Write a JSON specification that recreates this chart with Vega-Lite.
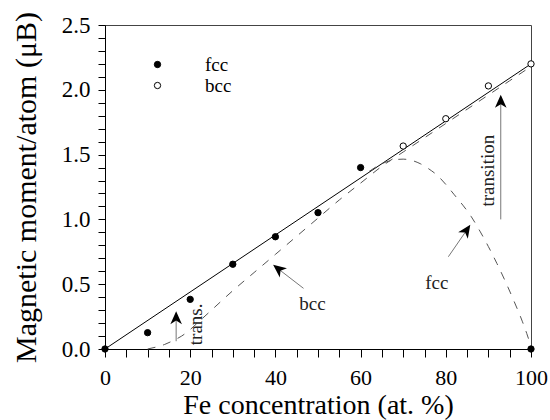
{
  "$schema": "https://vega.github.io/schema/vega-lite/v6.json",
  "autosize": {"type": "none"},
  "width": 426,
  "height": 324,
  "padding": {"left": 105, "top": 25, "right": 19, "bottom": 71},
  "background": "white",
  "config": {
    "view": {"stroke": "#444", "strokeWidth": 1},
    "font": "Liberation Serif"
  },
  "datasets": {
    "points": [
      {"x": 0, "y": 0, "phase": "fcc"},
      {"x": 10, "y": 0.126, "phase": "fcc"},
      {"x": 20, "y": 0.383, "phase": "fcc"},
      {"x": 30, "y": 0.654, "phase": "fcc"},
      {"x": 40, "y": 0.866, "phase": "fcc"},
      {"x": 50, "y": 1.052, "phase": "fcc"},
      {"x": 60, "y": 1.40, "phase": "fcc"},
      {"x": 100, "y": 0, "phase": "fcc"},
      {"x": 70, "y": 1.566, "phase": "bcc"},
      {"x": 80, "y": 1.777, "phase": "bcc"},
      {"x": 90, "y": 2.03, "phase": "bcc"},
      {"x": 100, "y": 2.2, "phase": "bcc"}
    ],
    "fit": [
      {"x": 0, "y": 0},
      {"x": 100, "y": 2.2}
    ],
    "curves": [
      {"x": 10, "y": 0.0, "curve": "bcc"},
      {"x": 12, "y": 0.015, "curve": "bcc"},
      {"x": 14, "y": 0.035, "curve": "bcc"},
      {"x": 16, "y": 0.065, "curve": "bcc"},
      {"x": 18, "y": 0.1, "curve": "bcc"},
      {"x": 20, "y": 0.15, "curve": "bcc"},
      {"x": 22, "y": 0.21, "curve": "bcc"},
      {"x": 25, "y": 0.3, "curve": "bcc"},
      {"x": 30, "y": 0.45, "curve": "bcc"},
      {"x": 35, "y": 0.59, "curve": "bcc"},
      {"x": 40, "y": 0.73, "curve": "bcc"},
      {"x": 45, "y": 0.87, "curve": "bcc"},
      {"x": 50, "y": 1.01, "curve": "bcc"},
      {"x": 55, "y": 1.15, "curve": "bcc"},
      {"x": 60, "y": 1.28, "curve": "bcc"},
      {"x": 65, "y": 1.41, "curve": "bcc"},
      {"x": 70, "y": 1.52, "curve": "bcc"},
      {"x": 75, "y": 1.63, "curve": "bcc"},
      {"x": 80, "y": 1.74, "curve": "bcc"},
      {"x": 85, "y": 1.85, "curve": "bcc"},
      {"x": 90, "y": 1.96, "curve": "bcc"},
      {"x": 95, "y": 2.07, "curve": "bcc"},
      {"x": 100, "y": 2.18, "curve": "bcc"},
      {"x": 62, "y": 1.37, "curve": "fcc"},
      {"x": 65, "y": 1.43, "curve": "fcc"},
      {"x": 68, "y": 1.46, "curve": "fcc"},
      {"x": 70, "y": 1.465, "curve": "fcc"},
      {"x": 72, "y": 1.455, "curve": "fcc"},
      {"x": 74, "y": 1.43, "curve": "fcc"},
      {"x": 76, "y": 1.39, "curve": "fcc"},
      {"x": 78, "y": 1.34, "curve": "fcc"},
      {"x": 80, "y": 1.27, "curve": "fcc"},
      {"x": 82, "y": 1.19, "curve": "fcc"},
      {"x": 84, "y": 1.11, "curve": "fcc"},
      {"x": 86, "y": 1.02, "curve": "fcc"},
      {"x": 88, "y": 0.91, "curve": "fcc"},
      {"x": 90, "y": 0.79, "curve": "fcc"},
      {"x": 92, "y": 0.66, "curve": "fcc"},
      {"x": 94, "y": 0.52, "curve": "fcc"},
      {"x": 96, "y": 0.37, "curve": "fcc"},
      {"x": 98, "y": 0.21, "curve": "fcc"},
      {"x": 99, "y": 0.12, "curve": "fcc"},
      {"x": 100, "y": 0.02, "curve": "fcc"}
    ],
    "shafts": [
      {"x": 16.7, "y": 0.06, "x2": 16.7, "y2": 0.25},
      {"x": 46.6, "y": 0.468, "x2": 40.8, "y2": 0.615},
      {"x": 80.6, "y": 0.712, "x2": 84.8, "y2": 0.912},
      {"x": 92.9, "y": 1.0, "x2": 92.9, "y2": 1.9}
    ],
    "heads": [
      {"x": 16.7, "y": 0.236, "angle": 0},
      {"x": 40.8, "y": 0.615, "angle": -52},
      {"x": 84.8, "y": 0.912, "angle": 34},
      {"x": 92.9, "y": 1.906, "angle": 0}
    ],
    "notes": [
      {"x": 21.3, "y": 0.19, "text": "trans.", "angle": 270},
      {"x": 48.7, "y": 0.35, "text": "bcc", "angle": 0},
      {"x": 77.9, "y": 0.507, "text": "fcc", "angle": 0},
      {"x": 90.0, "y": 1.376, "text": "transition", "angle": 270}
    ]
  },
  "encoding": {
    "x": {
      "field": "x", "type": "quantitative",
      "scale": {"domain": [0, 100], "nice": false},
      "axis": {
        "title": "Fe concentration (at. %)",
        "values": [0,5,10,15,20,25,30,35,40,45,50,55,60,65,70,75,80,85,90,95,100],
        "labelExpr": "datum.value % 20 === 0 ? datum.label : ''",
        "labelOverlap": false,
        "labelFlush": false,
        "labelBound": false,
        "grid": false,
        "tickSize": 8,
        "tickColor": "black",
        "domainColor": "black",
        "labelFont": "Liberation Serif",
        "labelFontSize": 22,
        "labelColor": "black",
        "labelPadding": 10,
        "titleFont": "Liberation Serif",
        "titleFontSize": 28,
        "titleFontWeight": "normal",
        "titleColor": "black",
        "titlePadding": 3,
        "encode": {"ticks": {"update": {"y2": {"signal": "datum.value % 20 === 0 ? 8 : 4"}}}}
      }
    },
    "y": {
      "field": "y", "type": "quantitative",
      "scale": {"domain": [0, 2.5], "nice": false},
      "axis": {
        "title": "Magnetic moment/atom (μB)",
        "values": [0,0.1,0.2,0.3,0.4,0.5,0.6,0.7,0.8,0.9,1.0,1.1,1.2,1.3,1.4,1.5,1.6,1.7,1.8,1.9,2.0,2.1,2.2,2.3,2.4,2.5],
        "labelExpr": "round(datum.value * 10) % 5 === 0 ? format(datum.value, '.1f') : ''",
        "labelOverlap": false,
        "labelFlush": false,
        "labelBound": false,
        "grid": false,
        "tickSize": 7,
        "tickColor": "black",
        "domainColor": "black",
        "labelFont": "Liberation Serif",
        "labelFontSize": 23,
        "labelColor": "black",
        "labelPadding": 8,
        "titleFont": "Liberation Serif",
        "titleFontSize": 30,
        "titleFontWeight": "normal",
        "titleColor": "black",
        "titlePadding": 20,
        "encode": {"ticks": {"update": {"x2": {"signal": "round(datum.value * 10) % 5 === 0 ? -7 : -4"}}}}
      }
    }
  },
  "layer": [
    {
      "data": {"name": "fit"},
      "mark": {"type": "line", "color": "black", "strokeWidth": 1, "clip": false}
    },
    {
      "data": {"name": "curves"},
      "mark": {"type": "line", "color": "#555", "strokeWidth": 1, "strokeDash": [8, 8], "interpolate": "monotone", "clip": false},
      "encoding": {"detail": {"field": "curve"}}
    },
    {
      "data": {"name": "shafts"},
      "mark": {"type": "rule", "color": "#777", "strokeWidth": 1},
      "encoding": {
        "x2": {"field": "x2"},
        "y2": {"field": "y2"}
      }
    },
    {
      "data": {"name": "heads"},
      "mark": {"type": "point", "shape": "M0,-1L0.8,0.8L0,0.3L-0.8,0.8Z", "filled": true, "color": "black", "opacity": 1, "size": 210},
      "encoding": {
        "angle": {"field": "angle", "type": "quantitative", "scale": null}
      }
    },
    {
      "data": {"name": "notes"},
      "mark": {"type": "text", "font": "Liberation Serif", "fontSize": 19, "color": "#222", "align": "center", "baseline": "middle"},
      "encoding": {
        "text": {"field": "text"},
        "angle": {"field": "angle", "type": "quantitative", "scale": null}
      }
    },
    {
      "data": {"name": "points"},
      "mark": {"type": "point", "shape": "circle", "filled": true, "stroke": "black", "strokeWidth": 1, "size": 40, "opacity": 1, "clip": false},
      "encoding": {
        "fill": {
          "field": "phase", "type": "nominal",
          "scale": {"domain": ["fcc", "bcc"], "range": ["black", "white"]},
          "legend": {
            "title": null,
            "orient": "none",
            "legendX": 43,
            "legendY": 30,
            "padding": 0,
            "labelFont": "Liberation Serif",
            "labelFontSize": 19,
            "labelColor": "black",
            "labelOffset": 38,
            "rowPadding": 1,
            "symbolType": "circle",
            "symbolSize": 40,
            "symbolStrokeColor": "black",
            "symbolStrokeWidth": 1
          }
        }
      }
    }
  ]
}
